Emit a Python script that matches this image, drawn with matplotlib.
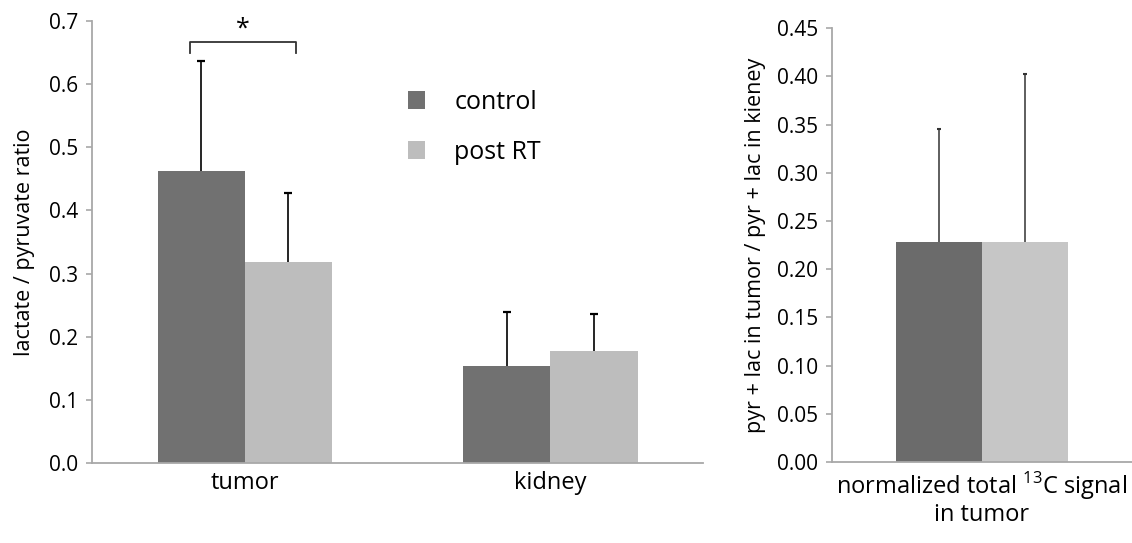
import matplotlib
matplotlib.use("Agg")
import matplotlib.pyplot as plt
import numpy as np

plt.rcParams['font.family'] = ['Open Sans', 'DejaVu Sans']
plt.rcParams['mathtext.fontset'] = 'custom'
plt.rcParams['mathtext.rm'] = 'Open Sans'

# Left panel data
categories = ["tumor", "kidney"]
control_vals = [0.462, 0.154]
control_err = [0.175, 0.085]
postrt_vals = [0.318, 0.177]
postrt_err = [0.110, 0.059]

# Right panel data
right_category = ["normalized total $^{\\mathrm{13}}$C signal\nin tumor"]
right_control = [0.228]
right_control_err = [0.117]
right_postrt = [0.228]
right_postrt_err = [0.175]

left_yticks = [0.0, 0.1, 0.2, 0.3, 0.4, 0.5, 0.6, 0.7]
right_yticks = [0.00, 0.05, 0.10, 0.15, 0.20, 0.25, 0.30, 0.35, 0.40, 0.45]

dark = "#717171"
light = "#bdbdbd"
dark_r = "#6b6b6b"
light_r = "#c6c6c6"
axis_gray = "#a8a8a8"

fig = plt.figure(figsize=(11.32, 5.43), dpi=100)
ax1 = fig.add_axes([0.0813, 0.1473, 0.540, 0.814])
ax2 = fig.add_axes([0.735, 0.149, 0.265, 0.799])


def upper_err(ax, xs, vals, errs, color, lw, capw):
    xs = np.asarray(xs, dtype=float)
    vals = np.asarray(vals, dtype=float)
    tops = vals + np.asarray(errs, dtype=float)
    ax.vlines(xs, vals, tops, color=color, lw=lw, zorder=3)
    if capw > 0:
        ax.plot(xs, tops, ls="none", marker="_", markersize=capw, markeredgewidth=lw + 0.4,
                color=color, zorder=3)


w = 0.285
x = np.arange(len(categories))
ax1.bar(x - w/2, control_vals, w, color=dark, label="control")
ax1.bar(x + w/2, postrt_vals, w, color=light, label="post RT")
upper_err(ax1, x - w/2, control_vals, control_err, "black", 1.2, 6)
upper_err(ax1, x + w/2, postrt_vals, postrt_err, "black", 1.2, 6)
ax1.set_xlim(-0.5, 1.5)
ax1.set_ylim(0, 0.7)
ax1.set_yticks(left_yticks)
ax1.set_yticklabels([f"{v:.1f}" for v in left_yticks])
ax1.set_xticks(x)
ax1.set_xticklabels(categories, fontsize=17)
ax1.set_ylabel("lactate / pyruvate ratio", fontsize=15.5, labelpad=10)

# significance bracket
bx0, bx1 = -0.18, 0.167
ax1.plot([bx0, bx0, bx1, bx1], [0.649, 0.667, 0.667, 0.649], color="#333333", lw=1.3, clip_on=False)
ax1.text((bx0 + bx1) / 2, 0.668, "*", ha="center", va="bottom", fontsize=18)

leg = ax1.legend(loc="upper left", bbox_to_anchor=(0.48, 0.895), frameon=False, fontsize=18,
                 handlelength=0.7, handleheight=0.7, handletextpad=1.15, labelspacing=1.0)

x2 = np.arange(len(right_category))
w2 = 0.287
ax2.bar(x2 - w2/2, right_control, w2, color=dark_r)
ax2.bar(x2 + w2/2, right_postrt, w2, color=light_r)
upper_err(ax2, x2 - w2/2, right_control, right_control_err, "#333333", 1.1, 3)
upper_err(ax2, x2 + w2/2, right_postrt, right_postrt_err, "#333333", 1.1, 3)
ax2.set_xlim(-0.5, 0.5)
ax2.set_ylim(0, 0.45)
ax2.set_yticks(right_yticks)
ax2.set_yticklabels([f"{v:.2f}" for v in right_yticks])
ax2.set_xticks(x2)
ax2.set_xticklabels(right_category, fontsize=17, linespacing=1.05)
ax2.set_ylabel("pyr + lac in tumor / pyr + lac in kieney", fontsize=15.5, labelpad=8)

for ax in (ax1, ax2):
    for s in ("top", "right"):
        ax.spines[s].set_visible(False)
    for s in ("left", "bottom"):
        ax.spines[s].set_color(axis_gray)
        ax.spines[s].set_linewidth(1.3)
    ax.tick_params(axis="y", labelsize=15, color=axis_gray, length=4, width=1.2, direction="out", pad=6)
    ax.tick_params(axis="x", length=0, pad=6)

fig.savefig("out.png", dpi=100)
